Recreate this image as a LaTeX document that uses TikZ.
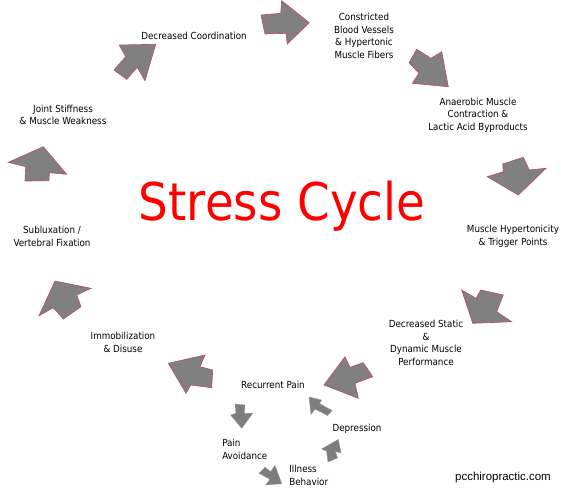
\documentclass[tikz,border=0pt]{standalone}
\usepackage{fontspec}
\setmainfont{DejaVu Sans Condensed}
\newfontfamily\sitefont{Liberation Sans}
\usepackage{tikz}

\begin{document}
\begin{tikzpicture}[x=0.75pt,y=0.75pt,yscale=-1,xscale=1,
  bigarrow/.style={fill={rgb,255:red,128;green,128;blue,128},draw={rgb,255:red,185;green,85;blue,95},line width=0.5pt,line join=miter},
  smallarrow/.style={fill={rgb,255:red,125;green,125;blue,125},draw={rgb,255:red,150;green,150;blue,150},line width=0.3pt},
  lbl/.style={font=\fontsize{7.3}{9.4}\selectfont,align=center,inner sep=0pt}]
\useasboundingbox (0,0) rectangle (561,487);
%big arrows round the cycle
\draw [bigarrow] (261,15) -- (280.7,13.3) -- (281.7,0.7) -- (309.3,22.7) -- (287.3,44) -- (286,33.3) -- (265,34) -- cycle ;
\draw [bigarrow] (416.7,49.3) -- (431,58.3) -- (441.7,51.7) -- (448.3,86.7) -- (412.3,83.3) -- (419,73.3) -- (409,62.7) -- cycle ;
\draw [bigarrow] (487.3,176.7) -- (503.3,171.7) -- (502.7,164) -- (523.3,157.3) -- (529.3,170) -- (546,168.3) -- (518.3,195) -- cycle ;
\draw [bigarrow] (461.7,290) -- (476,298.3) -- (480.7,290) -- (503.3,295) -- (496.7,311.7) -- (511.7,321.7) -- (472.7,323.3) -- cycle ;
\draw [bigarrow] (324,385) -- (345,356.7) -- (350,367.3) -- (363.3,362.7) -- (372.7,376.7) -- (355,383.3) -- (358.3,398.3) -- cycle ;
\draw [bigarrow] (168.3,363.3) -- (205,355) -- (200,366.7) -- (212.7,370) -- (211.7,387.7) -- (190.7,385) -- (186,393.3) -- cycle ;
\draw [bigarrow] (55,281) -- (91,288.3) -- (76.7,295) -- (81,306.7) -- (63.3,319) -- (53.3,307.7) -- (39,315.7) -- cycle ;
\draw [bigarrow] (8.3,162.3) -- (43.3,146.7) -- (66.7,174.3) -- (49.3,172.7) -- (49,180.7) -- (25,181) -- (25.7,166.7) -- cycle ;
\draw [bigarrow] (119.3,45) -- (155.7,44.3) -- (145,80.7) -- (137.3,67.3) -- (126.7,79.3) -- (114,70) -- (125.7,56.7) -- cycle ;
%small arrows of the inner loop
\draw [smallarrow] (235,404) -- (245,405) -- (244.3,413.3) -- (252.7,413.3) -- (241.7,428.3) -- (230.7,415) -- (236,413.3) -- cycle ;
\draw [smallarrow] (259,473.3) -- (265,467.3) -- (270.7,471.7) -- (275,465.3) -- (281.7,483.7) -- (265.7,485) -- (270,479.3) -- cycle ;
\draw [smallarrow] (338.3,439.5) -- (341,453) -- (335.5,451.5) -- (337.5,458) -- (328,462) -- (326.5,451) -- (321.5,449) -- cycle ;
\draw [smallarrow] (309,397) -- (321.5,400) -- (319.5,403.5) -- (332,410.5) -- (327.5,415.5) -- (315,409) -- (311,414.5) -- cycle ;

\node [lbl] (coord) at (194,36) {Decreased Coordination};
\node [lbl] (vessels) at (364,36) {Constricted\\Blood Vessels\\\& Hypertonic\\Muscle Fibers};
\node [lbl] (anaerobic) at (478,115) {Anaerobic Muscle\\Contraction \&\\Lactic Acid Byproducts};
\node [lbl] (trigger) at (513,236.5) {Muscle Hypertonicity\\\& Trigger Points};
\node [lbl] (static) at (426,343) {Decreased Static\\\&\\Dynamic Muscle\\Performance};
\node [lbl] (recurrent) at (273,385) {Recurrent Pain};
\node [lbl] (depression) at (357,429) {Depression};
\node [lbl,align=left,anchor=west] (avoid) at (222,449.5) {Pain\\Avoidance};
\node [lbl,align=left,anchor=west] (illness) at (289,475.5) {Illness\\Behavior};
\node [lbl] (immob) at (123,342.5) {Immobilization\\\& Disuse};
\node [lbl] (sublux) at (52,236.5) {Subluxation /\\Vertebral Fixation};
\node [lbl] (joint) at (63,115) {Joint Stiffness\\\& Muscle Weakness};
\node [text={rgb,255:red,255;green,0;blue,0},font=\fontsize{39}{39}\selectfont,inner sep=0pt] (title) at (282,206) {Stress Cycle};
\node [font=\sitefont\fontsize{8.6}{10}\selectfont,inner sep=0pt] (site) at (503,478) {pcchiropractic.com};
\end{tikzpicture}
\end{document}
